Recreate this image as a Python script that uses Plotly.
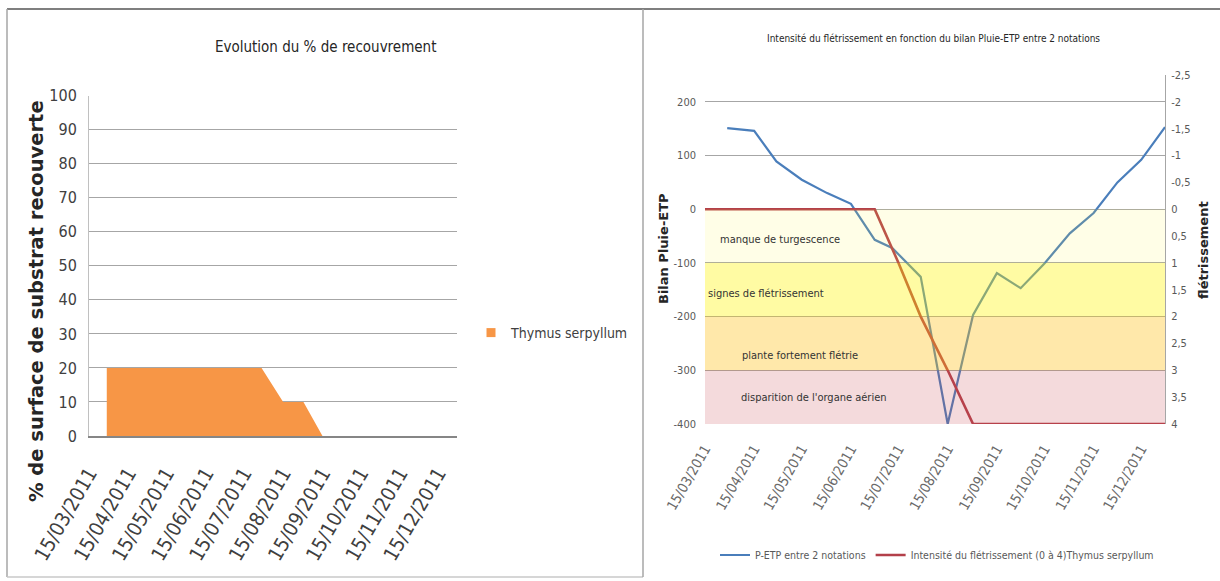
import plotly.graph_objects as go

# ---------------- data ----------------
tick_dates = ["2011-03-15", "2011-04-15", "2011-05-15", "2011-06-15", "2011-07-15",
              "2011-08-15", "2011-09-15", "2011-10-15", "2011-11-15", "2011-12-15"]
tick_labels = ["15/03/2011", "15/04/2011", "15/05/2011", "15/06/2011", "15/07/2011",
               "15/08/2011", "15/09/2011", "15/10/2011", "15/11/2011", "15/12/2011"]

# left chart: % de recouvrement
cover_dates = ["2011-03-29", "2011-04-15", "2011-04-29", "2011-05-15", "2011-05-31",
               "2011-06-15", "2011-06-30", "2011-07-11", "2011-07-29", "2011-08-15",
               "2011-08-31", "2011-09-15"]
cover_values = [20, 20, 20, 20, 20, 20, 20, 20, 20, 10, 10, 0]

# right chart: bilan Pluie-ETP
notation_dates = ["2011-03-29", "2011-04-15", "2011-04-29", "2011-05-15", "2011-05-31",
                  "2011-06-15", "2011-06-30", "2011-07-11", "2011-07-29", "2011-08-15",
                  "2011-08-31", "2011-09-15", "2011-09-30", "2011-10-15", "2011-10-31",
                  "2011-11-15", "2011-11-30", "2011-12-15", "2011-12-30"]
p_etp = [151, 146, 89, 55, 30, 10, -57, -72, -126, -400,
         -197, -119, -147, -101, -45, -7, 50, 92, 153]

# intensité du flétrissement (0 à 4)
intens_dates = ["2011-03-15", "2011-03-29", "2011-04-15", "2011-04-29", "2011-05-15",
                "2011-05-31", "2011-06-15", "2011-06-30", "2011-07-15", "2011-07-29",
                "2011-08-15", "2011-08-31", "2011-09-15", "2011-09-30", "2011-10-15",
                "2011-10-31", "2011-11-15", "2011-11-30", "2011-12-15", "2011-12-30"]
intens_values = [0, 0, 0, 0, 0, 0, 0, 0, 1, 2, 3, 4, 4, 4, 4, 4, 4, 4, 4, 4]

left_y_ticks = [-400, -300, -200, -100, 0, 100, 200]
left_y_labels = ["-400", "-300", "-200", "-100", "0", "100", "200"]
right_y_ticks = [-2.5, -2, -1.5, -1, -0.5, 0, 0.5, 1, 1.5, 2, 2.5, 3, 3.5, 4]
right_y_labels = ["-2,5", "-2", "-1,5", "-1", "-0,5", "0", "0,5", "1", "1,5", "2",
                  "2,5", "3", "3,5", "4"]

bands = [  # (top, bottom, fill, label)
    (0, -100, "rgba(255,250,60,0.12)", "manque de turgescence"),
    (-100, -200, "rgba(255,245,0,0.36)", "signes de flétrissement"),
    (-200, -300, "rgba(255,190,20,0.36)", "plante fortement flétrie"),
    (-300, -400, "rgba(200,70,80,0.20)", "disparition de l'organe aérien"),
]

# ---------------- layout helpers ----------------
W, H = 1220, 581
NARROW = "DejaVu Sans Condensed, Liberation Sans Narrow, sans-serif"
BOLD = "DejaVu Sans, Verdana, sans-serif"
ORANGE = "#F79646"


def px(x):
    return x / W


def py(y):
    return 1 - y / H


fig = go.Figure()

fig.add_trace(go.Scatter(
    x=cover_dates, y=cover_values, mode="lines", fill="tozeroy",
    line=dict(width=0, color=ORANGE), fillcolor=ORANGE,
    name="Thymus serpyllum", xaxis="x", yaxis="y", showlegend=False))
# legend entry (square swatch) for the area series
fig.add_trace(go.Scatter(
    x=[None], y=[None], mode="markers",
    marker=dict(symbol="square", size=9, color=ORANGE),
    name="Thymus serpyllum", xaxis="x", yaxis="y", legend="legend"))

fig.add_trace(go.Scatter(
    x=notation_dates, y=p_etp, mode="lines",
    line=dict(color="#4A7EBB", width=2.2),
    name="P-ETP entre 2 notations", xaxis="x2", yaxis="y2", legend="legend2"))

fig.add_trace(go.Scatter(
    x=intens_dates, y=intens_values, mode="lines",
    line=dict(color="#B3404A", width=2.6),
    name="Intensité du flétrissement (0 à 4)Thymus serpyllum",
    xaxis="x2", yaxis="y3", legend="legend2"))

shapes = []
for top, bottom, fill, _ in bands:
    shapes.append(dict(type="rect", xref="x2 domain", yref="y2", x0=0, x1=1,
                       y0=bottom, y1=top, fillcolor=fill, line=dict(width=0),
                       layer="above"))
# panel frames
shapes += [
    dict(type="line", xref="paper", yref="paper", x0=px(7), x1=1, y0=py(9), y1=py(9),
         line=dict(color="#7F7F7F", width=2)),
    dict(type="line", xref="paper", yref="paper", x0=px(7), x1=px(7), y0=py(9), y1=py(577),
         line=dict(color="#A6A6A6", width=1.5)),
    dict(type="line", xref="paper", yref="paper", x0=px(7), x1=px(643), y0=py(577), y1=py(577),
         line=dict(color="#C8C8C8", width=1.5)),
    dict(type="line", xref="paper", yref="paper", x0=px(643), x1=px(643), y0=py(9), y1=py(577),
         line=dict(color="#A6A6A6", width=1.5)),
]


def note(text, x, y, size, family=NARROW, bold=False, angle=0, xanchor="center",
         color="#262626"):
    font = dict(family=family, size=size, color=color)
    if bold:
        font["weight"] = "bold"
    return dict(text=text, x=px(x), y=py(y), xref="paper", yref="paper",
                xanchor=xanchor, yanchor="middle", textangle=angle, showarrow=False,
                font=font)


annotations = [
    note("Evolution du % de recouvrement", 325, 47, 15),
    note("% de surface de substrat recouverte", 36, 301, 19.5, BOLD, True, -90),
    note("Intensité du flétrissement en fonction du bilan Pluie-ETP entre 2 notations",
         933, 38, 10),
    note("Bilan Pluie-ETP", 663, 249, 13, BOLD, True, -90),
    note("flétrissement", 1203, 250, 13, BOLD, True, -90),
]
band_text_pos = [(718, 240), (706, 293), (740, 355), (739, 397)]
for (_, _, _, label), (bx, by) in zip(bands, band_text_pos):
    annotations.append(note(label, bx, by, 11, xanchor="left", color="#333333"))

date_axis = dict(type="date", range=["2011-03-15", "2011-12-30"], tickvals=tick_dates,
                 ticktext=tick_labels, tickangle=-60, showgrid=False, zeroline=False,
                 ticks="", automargin=False)

fig.update_layout(
    width=W, height=H, autosize=False,
    margin=dict(l=0, r=0, t=0, b=0, autoexpand=False),
    paper_bgcolor="white", plot_bgcolor="white",
    showlegend=True,
    xaxis=dict(domain=[px(89), px(457)], anchor="y", showline=True, linecolor="#868686",
               linewidth=1.5, ticklabelstandoff=16,
               tickfont=dict(family=NARROW, size=20, color="#404040"), **date_axis),
    yaxis=dict(domain=[py(436), py(95.7)], anchor="x", range=[0, 100], dtick=10,
               gridcolor="#A6A6A6", gridwidth=1, showline=True, linecolor="#C0C0C0",
               zeroline=False, ticks="", ticklabelstandoff=8, automargin=False,
               tickfont=dict(family=NARROW, size=16, color="#404040")),
    xaxis2=dict(domain=[px(705), px(1165)], anchor="y2", showline=False,
                ticklabelstandoff=13,
                tickfont=dict(family=NARROW, size=14, color="#6A6A6A"), **date_axis),
    yaxis2=dict(domain=[py(424), py(75)], anchor="x2", range=[-400, 250],
                tickvals=left_y_ticks, ticktext=left_y_labels, gridcolor="#A6A6A6",
                gridwidth=1, zeroline=False, showline=False, ticks="", ticklabelstandoff=8,
                automargin=False,
                tickfont=dict(family=NARROW, size=11, color="#595959")),
    yaxis3=dict(overlaying="y2", side="right", anchor="x2", range=[4, -2.5],
                tickvals=right_y_ticks, ticktext=right_y_labels, showgrid=False,
                zeroline=False, showline=True, linecolor="#A6A6A6", ticks="",
                ticklabelstandoff=3, automargin=False,
                tickfont=dict(family=NARROW, size=11, color="#595959")),
    legend=dict(x=px(471), y=py(333), xanchor="left", yanchor="middle",
                bgcolor="rgba(0,0,0,0)", itemwidth=30,
                font=dict(family=NARROW, size=14, color="#404040")),
    legend2=dict(orientation="h", x=px(937), y=py(555), xanchor="center", yanchor="middle",
                 bgcolor="rgba(0,0,0,0)", itemwidth=30,
                 font=dict(family=NARROW, size=10.5, color="#595959")),
    shapes=shapes,
    annotations=annotations,
)

fig.write_html("out.html", config={"displayModeBar": False},
               post_script="document.body.style.margin='0px';")
